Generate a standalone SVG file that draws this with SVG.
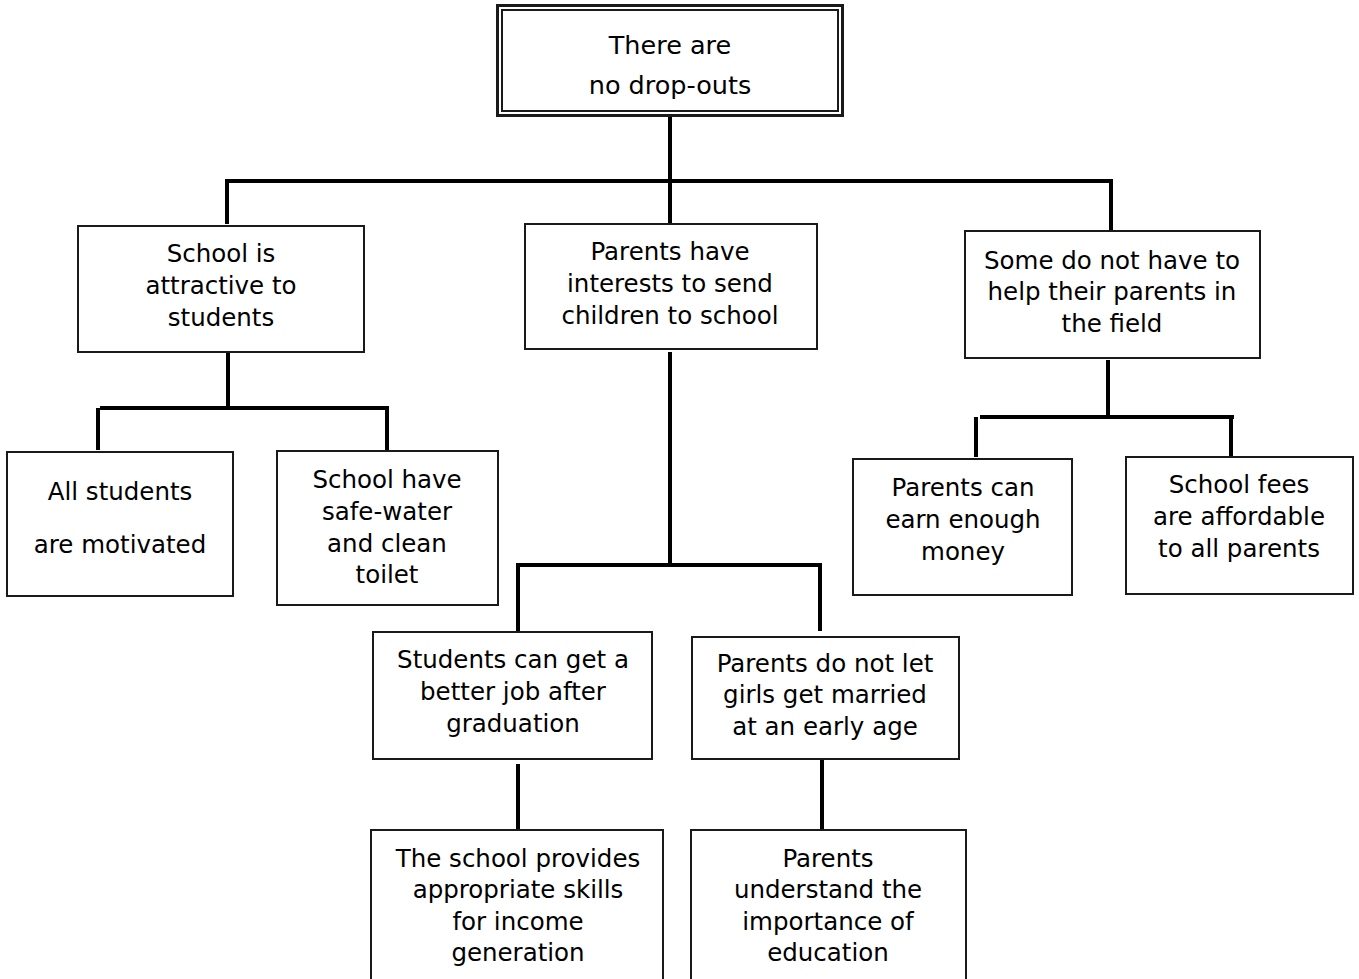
<svg xmlns="http://www.w3.org/2000/svg" width="1359" height="979" viewBox="0 0 1359 979">
  <style>
    .box { fill: #ffffff; stroke: #1a1a1a; stroke-width: 2; }
    .wire { fill: none; stroke: #000000; stroke-width: 4; stroke-linecap: butt; }
    text { font-family: "Comic Sans MS", "DejaVu Sans", sans-serif; font-size: 24.5px; fill: #000000; text-anchor: middle; }
    .title { font-size: 25.5px; }
  </style>
  <rect width="1359" height="979" fill="#ffffff"/>

  <!-- connectors -->
  <g id="connectors">
    <!-- root to first level -->
    <path class="wire" d="M670 116 V224"/>
    <path class="wire" d="M225 181 H1113"/>
    <path class="wire" d="M227 181 V224"/>
    <path class="wire" d="M1111 181 V231"/>
    <!-- school attractive branch -->
    <path class="wire" d="M228 353 V409"/>
    <path class="wire" d="M100 408 H389"/>
    <path class="wire" d="M98 408 V450"/>
    <path class="wire" d="M387 408 V450"/>
    <!-- parents interests branch -->
    <path class="wire" d="M670 352 V566"/>
    <path class="wire" d="M516 565 H822"/>
    <path class="wire" d="M518 565 V631"/>
    <path class="wire" d="M820 565 V631"/>
    <path class="wire" d="M518 764 V829"/>
    <path class="wire" d="M822 760 V829"/>
    <!-- field work branch -->
    <path class="wire" d="M1108 360 V418"/>
    <path class="wire" d="M980 417 H1234"/>
    <path class="wire" d="M976 417 V457"/>
    <path class="wire" d="M1231 419 V459"/>
  </g>

  <!-- root -->
  <g id="root">
    <rect x="497.5" y="5.5" width="345" height="110" fill="#ffffff" stroke="#1a1a1a" stroke-width="3"/>
    <rect x="502" y="10" width="336" height="101" fill="none" stroke="#1a1a1a" stroke-width="2"/>
    <text class="title" x="670" y="54">There are</text>
    <text class="title" x="670" y="94">no drop-outs</text>
  </g>

  <g id="school-attractive">
    <rect class="box" x="78" y="226" width="286" height="126"/>
    <text x="221" y="262">School is</text>
    <text x="221" y="294">attractive to</text>
    <text x="221" y="326">students</text>
  </g>

  <g id="parents-interests">
    <rect class="box" x="525" y="224" width="292" height="125"/>
    <text x="670" y="260">Parents have</text>
    <text x="670" y="292">interests to send</text>
    <text x="670" y="324">children to school</text>
  </g>

  <g id="no-field-work">
    <rect class="box" x="965" y="231" width="295" height="127"/>
    <text x="1112" y="269">Some do not have to</text>
    <text x="1112" y="300">help their parents in</text>
    <text x="1112" y="332">the field</text>
  </g>

  <g id="students-motivated">
    <rect class="box" x="7" y="452" width="226" height="144"/>
    <text x="120" y="500">All students</text>
    <text x="120" y="553">are motivated</text>
  </g>

  <g id="water-toilet">
    <rect class="box" x="277" y="451" width="221" height="154"/>
    <text x="387" y="488">School have</text>
    <text x="387" y="520">safe-water</text>
    <text x="387" y="552">and clean</text>
    <text x="387" y="583">toilet</text>
  </g>

  <g id="better-job">
    <rect class="box" x="373" y="632" width="279" height="127"/>
    <text x="513" y="668">Students can get a</text>
    <text x="513" y="700">better job after</text>
    <text x="513" y="732">graduation</text>
  </g>

  <g id="no-early-marriage">
    <rect class="box" x="692" y="637" width="267" height="122"/>
    <text x="825" y="672">Parents do not let</text>
    <text x="825" y="703">girls get married</text>
    <text x="825" y="735">at an early age</text>
  </g>

  <g id="earn-money">
    <rect class="box" x="853" y="459" width="219" height="136"/>
    <text x="963" y="496">Parents can</text>
    <text x="963" y="528">earn enough</text>
    <text x="963" y="560">money</text>
  </g>

  <g id="affordable-fees">
    <rect class="box" x="1126" y="457" width="227" height="137"/>
    <text x="1239" y="493">School fees</text>
    <text x="1239" y="525">are affordable</text>
    <text x="1239" y="557">to all parents</text>
  </g>

  <g id="income-skills">
    <rect class="box" x="371" y="830" width="292" height="170"/>
    <text x="518" y="867">The school provides</text>
    <text x="518" y="898">appropriate skills</text>
    <text x="518" y="930">for income</text>
    <text x="518" y="961">generation</text>
  </g>

  <g id="value-education">
    <rect class="box" x="691" y="830" width="275" height="170"/>
    <text x="828" y="867">Parents</text>
    <text x="828" y="898">understand the</text>
    <text x="828" y="930">importance of</text>
    <text x="828" y="961">education</text>
  </g>
</svg>
